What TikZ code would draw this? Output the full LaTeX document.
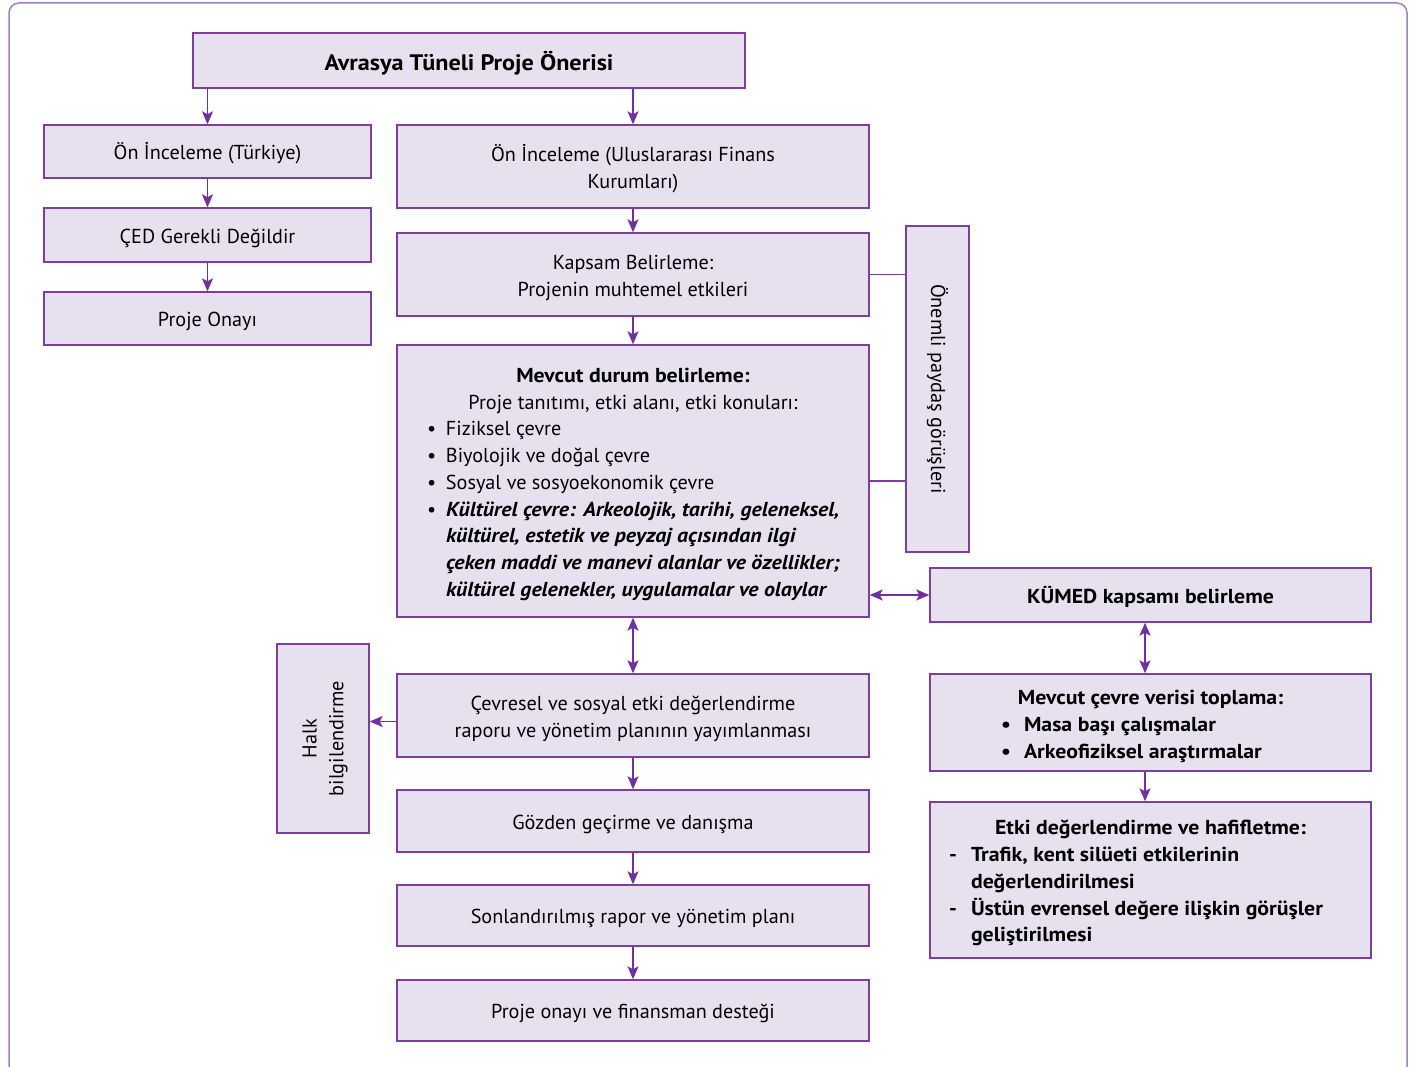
\documentclass[tikz,border=0pt]{standalone}
\usepackage{fontspec}
\setmainfont{PT Sans}[BoldFeatures={FakeStretch=1.08}, BoldItalicFeatures={FakeStretch=1.08}]
\usetikzlibrary{arrows.meta}
\definecolor{boxfill}{HTML}{E7E1EF}
\definecolor{boxline}{HTML}{7E3F9C}
\definecolor{arrc}{HTML}{7030A0}
\definecolor{framec}{HTML}{A47DC6}
\newcommand{\bitem}[2]{\hangindent=#1\hangafter=1\noindent\makebox[#1][l]{#2}}
\newcommand{\topstrut}[1]{\rule{0pt}{#1}}
\begin{document}
\begin{tikzpicture}[x=1pt,y=-1pt,
  box/.style={draw=boxline, fill=boxfill, line width=1.4pt, inner sep=0pt, align=center,
    font=\fontsize{20.2}{26.7}\selectfont, text=black, execute at begin node={\topstrut{21pt}}},
  mbox/.style={box, execute at begin node={}},
  parbox/.style={box, align=none, execute at begin node={}},
  lbl/.style={inner sep=0pt, align=center, font=\fontsize{20.2}{26.7}\selectfont, text=black},
  arr/.style={draw=arrc, line width=1.4pt, -{Stealth[length=13pt,width=11pt,inset=3pt]}},
  darr/.style={draw=arrc, line width=1.4pt, {Stealth[length=13pt,width=11pt,inset=3pt]}-{Stealth[length=13pt,width=11pt,inset=3pt]}},
  link/.style={draw=boxline, line width=1.4pt}]
\useasboundingbox (0,0) rectangle (1410,1067);
\begin{scope}
\clip (0,0) rectangle (1410,1067);
\draw[framec, line width=1.5pt, rounded corners=10pt] (9,3) rectangle (1407,1120);
\end{scope}

% top
\node[box, minimum width=552pt, minimum height=55pt, font=\fontsize{22.4}{26.7}\selectfont\bfseries,
  execute at begin node={\topstrut{24pt}}] (A) at (469,60.5) {Avrasya Tüneli Proje Önerisi};
% left column
\node[box, minimum width=327pt, minimum height=53pt] (T1) at (207.5,151.5) {Ön İnceleme (Türkiye)};
\node[box, minimum width=327pt, minimum height=54pt] (T2) at (207.5,235) {ÇED Gerekli Değildir};
\node[box, minimum width=327pt, minimum height=53pt] (T3) at (207.5,318.5) {Proje Onayı};
% center column
\node[mbox, minimum width=472pt, minimum height=83pt] (U) at (633,166.5) {\topstrut{21pt}Ön İnceleme (Uluslararası Finans\\Kurumları)};
\node[mbox, minimum width=472pt, minimum height=83pt] (K) at (633,274.5) {\topstrut{21pt}Kapsam Belirleme:\\Projenin muhtemel etkileri};
\node[parbox, text width=472pt, minimum height=272pt] (M) at (633,481) {%
{\centering\topstrut{21pt}\textbf{Mevcut durum belirleme:}\\Proje tanıtımı, etki alanı, etki konuları:\par}%
\raggedright\leftskip=30pt
\bitem{19pt}{•}Fiziksel çevre\par
\bitem{19pt}{•}Biyolojik ve doğal çevre\par
\bitem{19pt}{•}Sosyal ve sosyoekonomik çevre\par
\bitem{19pt}{•}\textbf{\textit{Kültürel çevre: Arkeolojik, tarihi, geleneksel,\newline kültürel, estetik ve peyzaj açısından ilgi\newline çeken maddi ve manevi alanlar ve özellikler;\newline kültürel gelenekler, uygulamalar ve olaylar}}\par};
\node[mbox, minimum width=472pt, minimum height=83pt] (C) at (633,715.5) {\topstrut{21pt}Çevresel ve sosyal etki değerlendirme\\raporu ve yönetim planının yayımlanması};
\node[box, minimum width=472pt, minimum height=62pt] (G) at (633,821) {Gözden geçirme ve danışma};
\node[box, minimum width=472pt, minimum height=61pt] (S) at (633,915.5) {Sonlandırılmış rapor ve yönetim planı};
\node[box, minimum width=472pt, minimum height=61pt] (P) at (633,1010.5) {Proje onayı ve finansman desteği};
% side boxes
\node[mbox, minimum width=63pt, minimum height=326pt] (O) at (937.5,389) {};
\node[lbl, rotate=-90] (Ot) at (O.center) {Önemli paydaş görüşleri};
\node[mbox, minimum width=92pt, minimum height=189pt] (H) at (323,738.5) {};
\node[lbl, rotate=90] (Ht) at ([xshift=2pt]H.center) {Halk\\bilgilendirme};
% right column
\node[box, minimum width=441pt, minimum height=54pt] (KU) at (1150.5,595) {\bfseries KÜMED kapsamı belirleme};
\node[parbox, text width=441pt, minimum height=97pt] (MC) at (1150.5,722.5) {%
{\centering\topstrut{22pt}\textbf{Mevcut çevre verisi toplama:}\par}%
\raggedright\leftskip=71pt\bfseries
\bitem{23pt}{•}Masa başı çalışmalar\par
\bitem{23pt}{•}Arkeofiziksel araştırmalar\par};
\node[parbox, text width=441pt, minimum height=156pt] (E) at (1150.5,880) {%
{\centering\topstrut{21pt}\textbf{Etki değerlendirme ve hafifletme:}\par}%
\raggedright\leftskip=19pt\bfseries
\bitem{22pt}{-}Trafik, kent silüeti etkilerinin\newline değerlendirilmesi\par
\bitem{22pt}{-}Üstün evrensel değere ilişkin görüşler\newline geliştirilmesi\par};

% connectors
\draw[arr] (A.south -| T1.north) -- (T1.north);
\draw[arr] (A.south -| U.north) -- (U.north);
\draw[arr] (T1) -- (T2);
\draw[arr] (T2) -- (T3);
\draw[arr] (U) -- (K);
\draw[arr] (K) -- (M);
\draw[darr] (M) -- (C);
\draw[arr] (C) -- (G);
\draw[arr] (G) -- (S);
\draw[arr] (S) -- (P);
\coordinate (cw) at ([yshift=-6pt]C.west);
\draw[arr] (cw) -- (cw -| H.east);
\draw[link] (K.east) -- (K.east -| O.west);
\draw[link] (M.east) -- (M.east -| O.west);
\draw[darr] (M.east |- KU.west) -- (KU.west);
\coordinate (k1) at ([xshift=-5.5pt]KU.south);
\draw[darr] (k1) -- (k1 |- MC.north);
\coordinate (k2) at ([xshift=-5.5pt]MC.south);
\draw[arr] (k2) -- (k2 |- E.north);
\end{tikzpicture}
\end{document}
